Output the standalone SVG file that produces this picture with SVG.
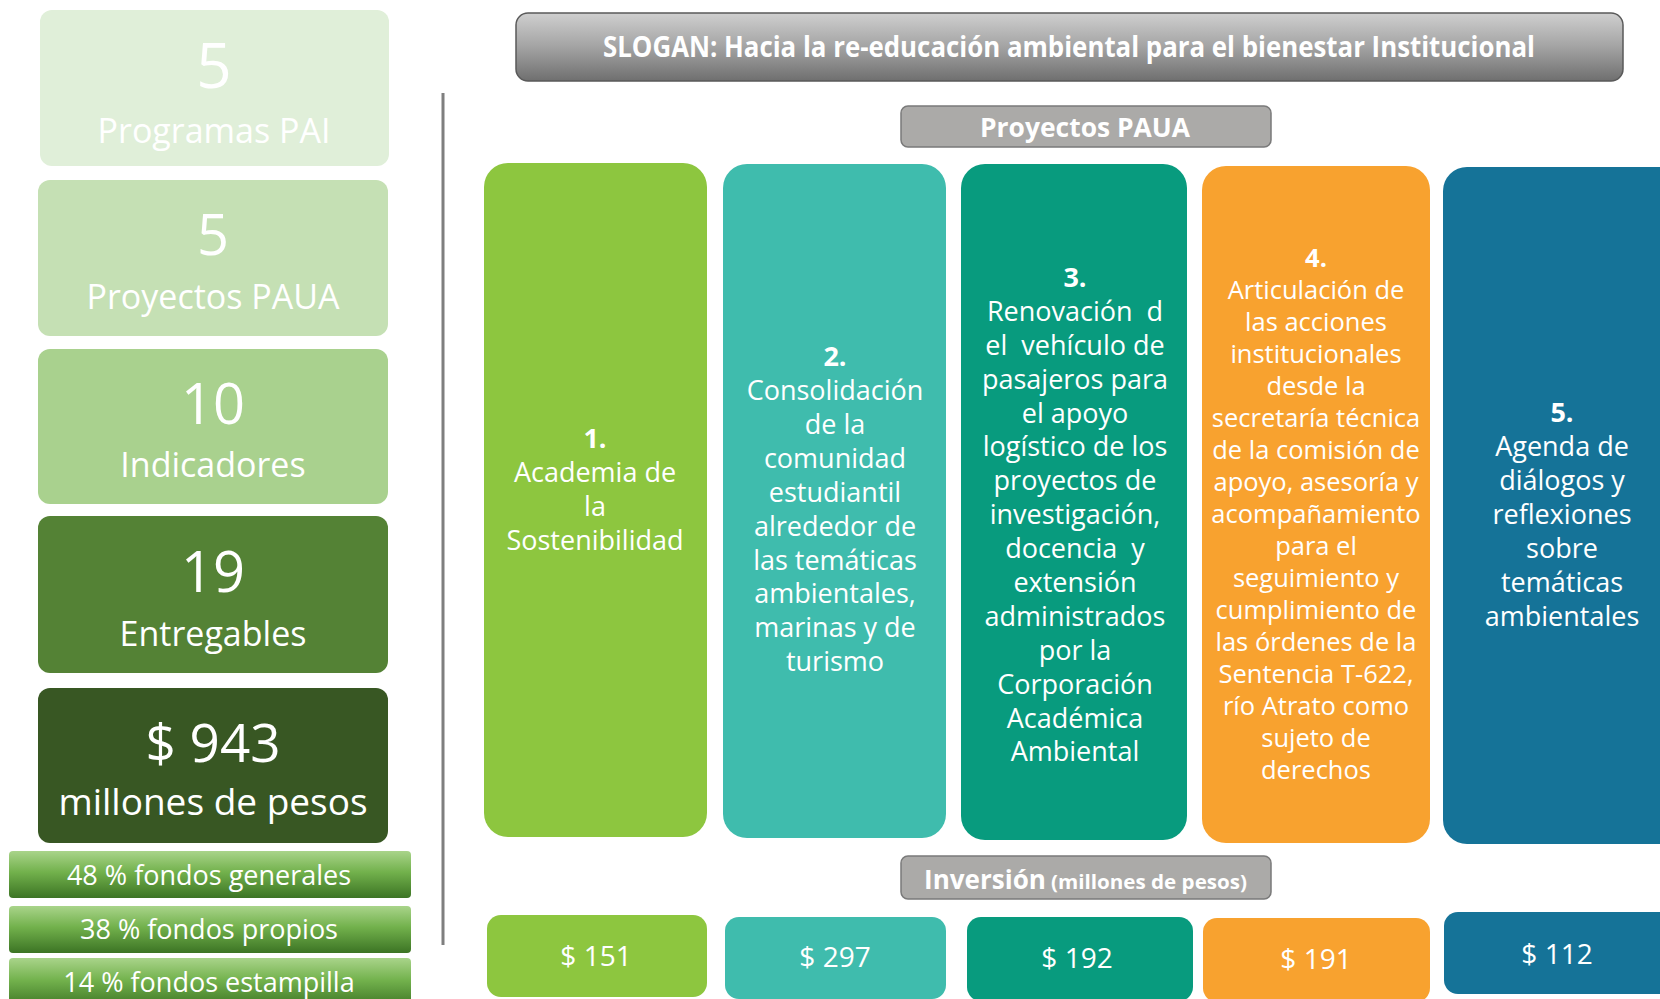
<svg xmlns="http://www.w3.org/2000/svg" width="1660" height="999" viewBox="0 0 1660 999">
<defs>
<linearGradient id="gGray" x1="0" y1="0" x2="0" y2="1">
<stop offset="0" stop-color="#cfcfcf"/>
<stop offset="0.5" stop-color="#a3a3a3"/>
<stop offset="1" stop-color="#6f6f6f"/>
</linearGradient>
<linearGradient id="gFund" x1="0" y1="0" x2="0" y2="1">
<stop offset="0" stop-color="#a9d48a"/>
<stop offset="0.45" stop-color="#72b14c"/>
<stop offset="1" stop-color="#3c7424"/>
</linearGradient>
<style>
text{font-family:"Open Sans","Noto Sans",sans-serif;fill:#ffffff;text-anchor:middle}
.num{font-size:56px}
.lbl{font-size:34px}
.col{font-size:27px}
.col4{font-size:25.5px}
.b{font-weight:bold}
.fund{font-size:27px}
.val{font-size:28px}
.hdr{font-weight:bold}
</style>
</defs>
<rect width="1660" height="999" fill="#ffffff"/>

<g id="stat-programas">
<rect x="40" y="10" width="349" height="156" rx="12" fill="#e0efd9"/>
<text x="214" y="88" style="font-size:62px">5</text>
<text x="214" y="143" class="lbl">Programas PAI</text>
</g>
<g id="stat-proyectos">
<rect x="38" y="180" width="350" height="156" rx="12" fill="#c5e0b4"/>
<text x="213" y="255" class="num">5</text>
<text x="213" y="309" class="lbl">Proyectos PAUA</text>
</g>
<g id="stat-indicadores">
<rect x="38" y="349" width="350" height="155" rx="12" fill="#a9d18e"/>
<text x="213" y="424" class="num">10</text>
<text x="213" y="477" class="lbl">Indicadores</text>
</g>
<g id="stat-entregables">
<rect x="38" y="516" width="350" height="157" rx="12" fill="#548235"/>
<text x="213" y="592" class="num">19</text>
<text x="213" y="646" class="lbl">Entregables</text>
</g>
<g id="stat-inversion">
<rect x="38" y="688" width="350" height="155" rx="12" fill="#385723"/>
<text x="213" y="762" style="font-size:53px">$ 943</text>
<text x="213" y="815" style="font-size:37px">millones de pesos</text>
</g>
<g id="fondos-generales">
<rect x="9" y="851" width="402" height="47" rx="4" fill="url(#gFund)"/>
<text x="209" y="885" class="fund">48 % fondos generales</text>
</g>
<g id="fondos-propios">
<rect x="9" y="906" width="402" height="47" rx="4" fill="url(#gFund)"/>
<text x="209" y="939" class="fund">38 % fondos propios</text>
</g>
<g id="fondos-estampilla">
<rect x="9" y="958" width="402" height="50" rx="4" fill="url(#gFund)"/>
<text x="209" y="992" class="fund">14 % fondos estampilla</text>
</g>

<g id="separator">
<line x1="443" y1="93" x2="443" y2="945" stroke="#7f7f7f" stroke-width="3"/>
</g>

<g id="slogan">
<rect x="516" y="13" width="1107" height="68" rx="12" fill="url(#gGray)" stroke="#5a5a5a" stroke-width="1.5"/>
<text x="1069" y="57" class="hdr" style="font-size:28px" textLength="932" lengthAdjust="spacingAndGlyphs">SLOGAN: Hacia la re-educación ambiental para el bienestar Institucional</text>
</g>
<g id="titulo-proyectos">
<rect x="901" y="106" width="370" height="41" rx="7" fill="#abaaa8" stroke="#7a7a7a" stroke-width="1.5"/>
<text x="1085" y="137" class="hdr" style="font-size:27px" textLength="210" lengthAdjust="spacingAndGlyphs">Proyectos PAUA</text>
</g>

<g id="proyecto-1">
<rect x="484" y="163" width="223" height="674" rx="24" fill="#8dc63f"/>
<text class="col"><tspan x="595" y="448" class="b">1.</tspan><tspan x="595" y="482">Academia de</tspan><tspan x="595" y="516">la</tspan><tspan x="595" y="550">Sostenibilidad</tspan></text>
</g>
<g id="proyecto-2">
<rect x="723" y="164" width="223" height="674" rx="24" fill="#3fbcad"/>
<text class="col"><tspan x="835" y="366" class="b">2.</tspan><tspan x="835" y="400">Consolidación</tspan><tspan x="835" y="434">de la</tspan><tspan x="835" y="468">comunidad</tspan><tspan x="835" y="502">estudiantil</tspan><tspan x="835" y="536">alrededor de</tspan><tspan x="835" y="570">las temáticas</tspan><tspan x="835" y="603">ambientales,</tspan><tspan x="835" y="637">marinas y de</tspan><tspan x="835" y="671">turismo</tspan></text>
</g>
<g id="proyecto-3">
<rect x="961" y="164" width="226" height="676" rx="24" fill="#089b7e"/>
<text class="col" xml:space="preserve"><tspan x="1075" y="287" class="b">3.</tspan><tspan x="1075" y="321">Renovación  d</tspan><tspan x="1075" y="355">el  vehículo de</tspan><tspan x="1075" y="389">pasajeros para</tspan><tspan x="1075" y="423">el apoyo</tspan><tspan x="1075" y="456">logístico de los</tspan><tspan x="1075" y="490">proyectos de</tspan><tspan x="1075" y="524">investigación,</tspan><tspan x="1075" y="558">docencia  y</tspan><tspan x="1075" y="592">extensión</tspan><tspan x="1075" y="626">administrados</tspan><tspan x="1075" y="660">por la</tspan><tspan x="1075" y="694">Corporación</tspan><tspan x="1075" y="728">Académica</tspan><tspan x="1075" y="761">Ambiental</tspan></text>
</g>
<g id="proyecto-4">
<rect x="1202" y="166" width="228" height="677" rx="24" fill="#f8a22f"/>
<text class="col4"><tspan x="1316" y="267" class="b">4.</tspan><tspan x="1316" y="299">Articulación de</tspan><tspan x="1316" y="331">las acciones</tspan><tspan x="1316" y="363">institucionales</tspan><tspan x="1316" y="395">desde la</tspan><tspan x="1316" y="427">secretaría técnica</tspan><tspan x="1316" y="459">de la comisión de</tspan><tspan x="1316" y="491">apoyo, asesoría y</tspan><tspan x="1316" y="523">acompañamiento</tspan><tspan x="1316" y="555">para el</tspan><tspan x="1316" y="587">seguimiento y</tspan><tspan x="1316" y="619">cumplimiento de</tspan><tspan x="1316" y="651">las órdenes de la</tspan><tspan x="1316" y="683">Sentencia T-622,</tspan><tspan x="1316" y="715">río Atrato como</tspan><tspan x="1316" y="747">sujeto de</tspan><tspan x="1316" y="779">derechos</tspan></text>
</g>
<g id="proyecto-5">
<rect x="1443" y="167" width="240" height="677" rx="24" fill="#157398"/>
<text class="col"><tspan x="1562" y="422" class="b">5.</tspan><tspan x="1562" y="456">Agenda de</tspan><tspan x="1562" y="490">diálogos y</tspan><tspan x="1562" y="524">reflexiones</tspan><tspan x="1562" y="558">sobre</tspan><tspan x="1562" y="592">temáticas</tspan><tspan x="1562" y="626">ambientales</tspan></text>
</g>

<g id="titulo-inversion">
<rect x="901" y="856" width="370" height="43" rx="7" fill="#abaaa8" stroke="#7a7a7a" stroke-width="1.5"/>
<text x="985" y="889" class="hdr" style="font-size:27px" textLength="122" lengthAdjust="spacingAndGlyphs">Inversión</text>
<text x="1149" y="889" class="hdr" style="font-size:19px" textLength="196" lengthAdjust="spacingAndGlyphs">(millones de pesos)</text>
</g>

<g id="inversion-1">
<rect x="487" y="915" width="220" height="82" rx="14" fill="#8dc63f"/>
<text x="596" y="966" class="val">$ 151</text>
</g>
<g id="inversion-2">
<rect x="725" y="917" width="221" height="82" rx="14" fill="#3fbcad"/>
<text x="835" y="967" class="val">$ 297</text>
</g>
<g id="inversion-3">
<rect x="967" y="917" width="226" height="84" rx="14" fill="#089b7e"/>
<text x="1077" y="968" class="val">$ 192</text>
</g>
<g id="inversion-4">
<rect x="1203" y="918" width="227" height="84" rx="14" fill="#f8a22f"/>
<text x="1316" y="969" class="val">$ 191</text>
</g>
<g id="inversion-5">
<rect x="1444" y="912" width="240" height="82" rx="14" fill="#157398"/>
<text x="1557" y="964" class="val">$ 112</text>
</g>
</svg>
